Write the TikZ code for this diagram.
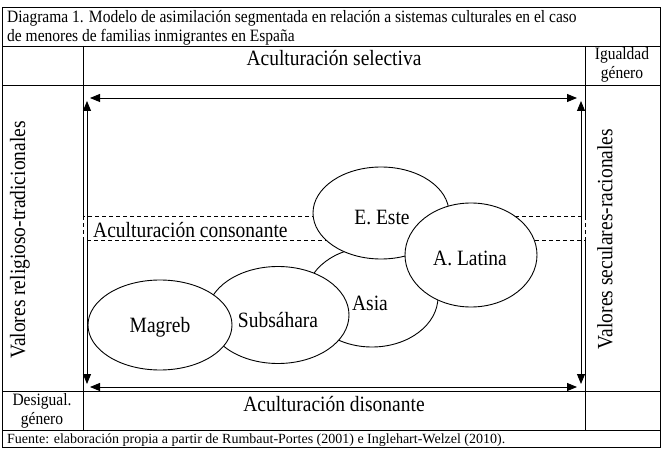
\documentclass[tikz,border=0pt]{standalone}
\usepackage{fontspec}
\setmainfont{Liberation Serif}
\usetikzlibrary{arrows.meta,shapes.geometric}
\newcommand{\vstr}[1]{\scalebox{1}[1.12]{#1}}
\begin{document}
\begin{tikzpicture}[x=1pt,y=-1pt,
  frame/.style={line width=0.9pt},
  dbl/.style={line width=0.9pt,{Triangle[length=10pt,width=8pt]}-{Triangle[length=10pt,width=8pt]}},
  region/.style={ellipse, draw, fill=white, line width=0.9pt, inner sep=0pt},
  bigtxt/.style={inner sep=0pt, font=\fontsize{19.5}{22}\selectfont},
  midtxt/.style={inner sep=0pt, font=\fontsize{15.5}{19}\selectfont},
  smalltxt/.style={inner sep=0pt, font=\fontsize{14}{16}\selectfont},
  band/.style={dashed, dash pattern=on 4pt off 3pt, line width=0.8pt}
]
\useasboundingbox (0,0) rectangle (664,449);
\fill[white] (0,0) rectangle (664,449);
% frame and table rules
\draw[frame] (2,7) rectangle (660,447);
\draw[frame] (2,46) -- (660,46);
\draw[frame] (2,85) -- (660,85);
\draw[frame] (2,391) -- (660,391);
\draw[frame] (2,430) -- (660,430);
\draw[frame] (83,46) -- (83,216);
\draw[frame] (83,240) -- (83,430);
\draw[frame] (585,46) -- (585,216);
\draw[frame] (585,240) -- (585,430);
% dashed band
\draw[band] (83,216) rectangle (585,240);
% texts
\node[midtxt, anchor=base west] (t1) at (7,23) {\vstr{Diagrama 1. Modelo de asimilación segmentada en relación a sistemas culturales en el caso}};
\node[midtxt, anchor=base west] (t2) at (7,42) {\vstr{de menores de familias inmigrantes en España}};
\node[bigtxt] (sel) at (334,58) {\vstr{Aculturación selectiva}};
\node[midtxt, align=center] (ig) at (622,65) {\vstr{Igualdad}\\\vstr{género}};
\node[bigtxt] (dis) at (334,404) {\vstr{Aculturación disonante}};
\node[midtxt, align=center] (des) at (42,411) {\vstr{Desigual.}\\\vstr{género}};
\node[smalltxt, anchor=base west] (fu) at (7,443) {Fuente: elaboración propia a partir de Rumbaut-Portes (2001) e Inglehart-Welzel (2010).};
\node[bigtxt, anchor=west] (con) at (93,230) {\vstr{Aculturación consonante}};
\node[bigtxt, rotate=90] (vrt) at (20,240) {\vstr{Valores religioso-tradicionales}};
\node[bigtxt, rotate=90] (vsr) at (605,239) {\vstr{Valores seculares-racionales}};
% arrows
\coordinate (ta) at (90,98);
\coordinate (tb) at (577,98);
\coordinate (ba) at (90,387);
\coordinate (bb) at (577,387);
\coordinate (la) at (87,101);
\coordinate (lb) at (87,384);
\coordinate (ra) at (581,101);
\coordinate (rb) at (581,384);
\draw[dbl] (ta) -- (tb);
\draw[dbl] (ba) -- (bb);
\draw[dbl] (la) -- (lb);
\draw[dbl] (ra) -- (rb);
% ellipses
\node[region, minimum width=132pt, minimum height=100pt] (asia) at (372,297) {};
\node[bigtxt] (asiat) at (370,303) {\vstr{Asia}};
\node[region, minimum width=136pt, minimum height=92pt] (este) at (381,213) {};
\node[bigtxt] (estet) at (382,218) {\vstr{E. Este}};
\node[region, minimum width=142pt, minimum height=97pt] (sub) at (278,315) {};
\node[bigtxt] (subt) at (278,320) {\vstr{Subsáhara}};
\node[region, minimum width=144pt, minimum height=90pt] (mag) at (160,325) {};
\node[bigtxt] (magt) at (160,327) {\vstr{Magreb}};
\node[region, minimum width=132pt, minimum height=104pt] (lat) at (471,255) {};
\node[bigtxt] (latt) at (470,258) {\vstr{A. Latina}};
\end{tikzpicture}
\end{document}
